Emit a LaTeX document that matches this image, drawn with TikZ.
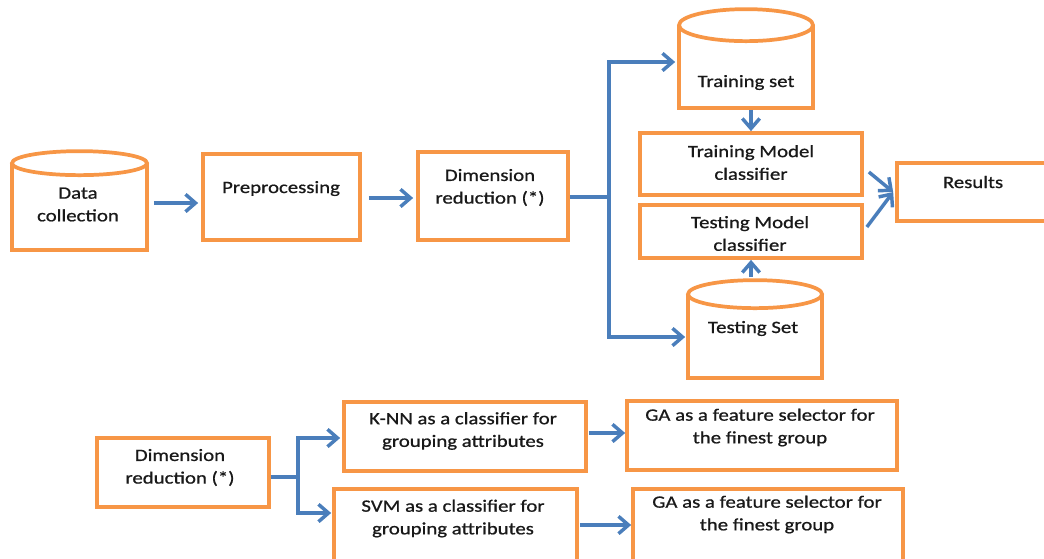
\documentclass[tikz,border=0pt]{standalone}
\usepackage{fontspec}
\setmainfont[FakeStretch=1.2, FakeBold=0.8]{Carlito}
\usetikzlibrary{arrows.meta,calc}

\definecolor{boxorange}{HTML}{F79646}
\definecolor{flowblue}{HTML}{4A7EBB}

\tikzset{
  box/.style={draw=boxorange, line width=2.8pt, fill=white, inner sep=0pt},
  sz/.style 2 args={minimum width=#1*0.75pt, minimum height=#2*0.75pt},
  txt/.style={font=\fontsize{13}{17}\selectfont, align=center, inner sep=0pt, text=black!90},
  flow/.style={draw=flowblue, line width=2.6pt},
  arr/.style={flow, -{Straight Barb[length=7.5pt, width=13pt]}},
  capstyle/.style={draw=boxorange, line width=2.8pt, fill=white}
}

\begin{document}
\begin{tikzpicture}[x=0.75pt, y=-0.75pt]
\useasboundingbox (0,0) rectangle (1044,558);
\clip (0,0) rectangle (1044,558);

% ---- main pipeline ----
\node[box, sz={135}{85}] (data) at (79.5,207.5) {};
\draw[capstyle] (data.north) ellipse [x radius=67.5*0.75pt, y radius=12*0.75pt];
\node[txt] at (78,204.5) {Data\\collection};

\node[box, sz={157}{86}] (pre) at (281.5,197) {};
\node[txt, anchor=base] at (281,193) {Preprocessing};

\node[box, sz={150}{88}] (dim) at (493,196) {};
\node[txt] at (490,187.5) {Dimension\\reduction (*)};

% data sets
\node[box, sz={134}{81}] (train) at (746,67.5) {};
\draw[capstyle] (train.north) ellipse [x radius=67*0.75pt, y radius=16*0.75pt];
\node[txt, anchor=base] at (746,87) {Training set};

\node[box, sz={134}{82}] (tests) at (755,337) {};
\draw[capstyle] (tests.north) ellipse [x radius=67*0.75pt, y radius=14*0.75pt];
\node[txt, anchor=base] at (753,333) {Testing Set};

% classifiers
\node[box, sz={222}{62}] (trm) at (751,164) {};
\node[txt] at (751,162.5) {Training Model\\classifier};

\node[box, sz={222}{53}] (tsm) at (751,231.5) {};
\node[txt] at (750,233.5) {Testing Model\\classifier};

\node[box, sz={163}{58}] (res) at (978.5,192) {};
\node[txt, anchor=base] at (973,188) {Results};

% pipeline connectors
\draw[arr] ($(data.east)+(5,-4.5)$) -- ($(pre.west)+(-3,6)$);
\draw[arr] ($(pre.east)+(7,1)$) -- ($(dim.west)+(-3,2)$);
\coordinate (split) at (609,197);
\draw[flow] (dim.east |- split) -- (split);
\draw[arr] (split) |- ($(train.west)+(-2,-5.5)$);
\draw[arr] (split) |- ($(tests.west)+(-1,0)$);
\draw[arr] (trm.north |- train.south) -- (trm.north);
\draw[arr] ($(tsm.south |- tests.north)+(0,-17)$) -- (tsm.south);
\draw[arr] ($(trm.east)+(5,8)$) -- ($(res.west)+(-2,0)$);
\draw[arr] ($(tsm.east)+(3,-4.5)$) -- ($(res.west)+(-2,0)$);

% ---- dimension reduction detail ----
\node[box, sz={172}{69}] (dim2) at (183,472.5) {};
\node[txt] at (180,467.5) {Dimension\\reduction (*)};

\node[box, sz={242}{69}] (knn) at (465,436.5) {};
\node[txt] at (463,431) {K-NN as a classifier for\\grouping attributes};

\node[box, sz={243}{81}] (svm) at (455.5,529.5) {};
\node[txt] at (453,518.5) {SVM as a classifier for\\grouping attributes};

\node[box, sz={270}{69}] (ga1) at (762,435.5) {};
\node[txt] at (760,427.5) {GA as a feature selector for\\the finest group};

\node[box, sz={270}{81}] (ga2) at (768,529.5) {};
\node[txt] at (767,514.5) {GA as a feature selector for\\the finest group};

\coordinate (split2) at (298,477);
\draw[flow] ($(dim2.east)+(0,4.5)$) -- (split2);
\draw[arr] (split2) |- ($(knn.west)+(-2,1.5)$);
\draw[arr] (split2) |- ($(svm.west)+(-1,-16.5)$);
\draw[arr] ($(knn.east)+(1,-3.5)$) -- ($(ga1.west)+(0,-2.5)$);
\draw[arr] ($(svm.east)+(1,-4.5)$) -- ($(ga2.west)+(0,-4.5)$);
\end{tikzpicture}
\end{document}
